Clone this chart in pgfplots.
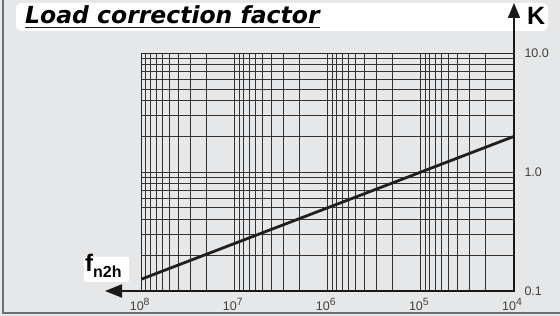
\documentclass[border=0pt]{standalone}
\usepackage{fontspec}
\setmainfont{Liberation Sans}
\newfontfamily\titlefont{DejaVu Sans}
\usepackage{pgfplots}
\pgfplotsset{compat=1.18}
\usetikzlibrary{arrows.meta}
\definecolor{bggray}{HTML}{E6E7E8}
\definecolor{framegray}{HTML}{6D6E70}
\newcommand{\tenp}[1]{10\raisebox{5pt}{\fontsize{10.5}{10.5}\selectfont #1}}
\begin{document}
\begin{tikzpicture}
\useasboundingbox (0pt,0pt) rectangle (560pt,316pt);
\fill[bggray] (0pt,0pt) rectangle (560pt,316pt);
\draw[framegray, line width=2pt] (3pt,316pt) -- (3pt,3pt) -- (560pt,3pt);
\fill[white, rounded corners=6pt] (16pt,285pt) rectangle (548pt,313pt);
\node[anchor=base west, inner sep=0pt] (t) at (25pt,292pt)
  {\titlefont\bfseries\itshape\fontsize{23.5}{26}\selectfont Load correction factor};
\draw[line width=1.7pt, black!90] ([yshift=-3.5pt]t.base west) -- ([yshift=-3.5pt]t.base east);
\begin{axis}[
  at={(141.7pt,25pt)}, anchor=south west,
  scale only axis, width=372.3pt, height=237.7pt,
  xmode=log, ymode=log, x dir=reverse,
  xmin=1e4, xmax=1e8, ymin=0.1, ymax=10,
  xtick={1e4,1e5,1e6,1e7,1e8},
  xticklabels={\tenp{4},\tenp{5},\tenp{6},\tenp{7},\tenp{8}},
  minor xtick={2e4,3e4,4e4,5e4,6e4,7e4,8e4,9e4,2e5,3e5,4e5,5e5,6e5,7e5,8e5,9e5,2e6,3e6,4e6,5e6,6e6,7e6,8e6,9e6,2e7,3e7,4e7,5e7,6e7,7e7,8e7,9e7},
  ytick={0.1,1,10},
  yticklabels={0.1,1.0,10.0},
  minor ytick={0.2,0.3,0.4,0.5,0.6,0.7,0.8,0.9,2,3,4,5,6,7,8,9},
  yticklabel pos=right,
  grid=both,
  major grid style={black!80, line width=1pt},
  minor grid style={black!80, line width=1pt},
  major tick length=0pt, minor tick length=0pt,
  axis line style={black!85, line width=1pt},
  tick label style={font=\fontsize{12.5}{12.5}\selectfont, text=black!75},
  yticklabel style={xshift=7pt},
  xticklabel style={yshift=-4pt, xshift=-2pt},
]
\addplot[line width=2.8pt, color=black!88] coordinates {(1e8,0.126) (1e4,2.0)};
\end{axis}
\draw[line width=1.5pt, black!90, -{Triangle[length=15pt,width=12pt]}] (514pt,24pt) -- (514pt,313pt);
\draw[line width=1.8pt, black!90, -{Triangle[length=17pt,width=13pt]}] (514pt,25pt) -- (105pt,25pt);
\node[anchor=base west, inner sep=0pt] at (527pt,291pt) {\bfseries\fontsize{25}{25}\selectfont K};
\fill[white, rounded corners=2pt] (84pt,34pt) rectangle (129pt,59pt);
\node[anchor=base west, inner sep=0pt] at (85pt,44pt)
  {\bfseries\fontsize{24}{24}\selectfont f\raisebox{-6pt}{\fontsize{16}{16}\selectfont n2h}};
\end{tikzpicture}
\end{document}
